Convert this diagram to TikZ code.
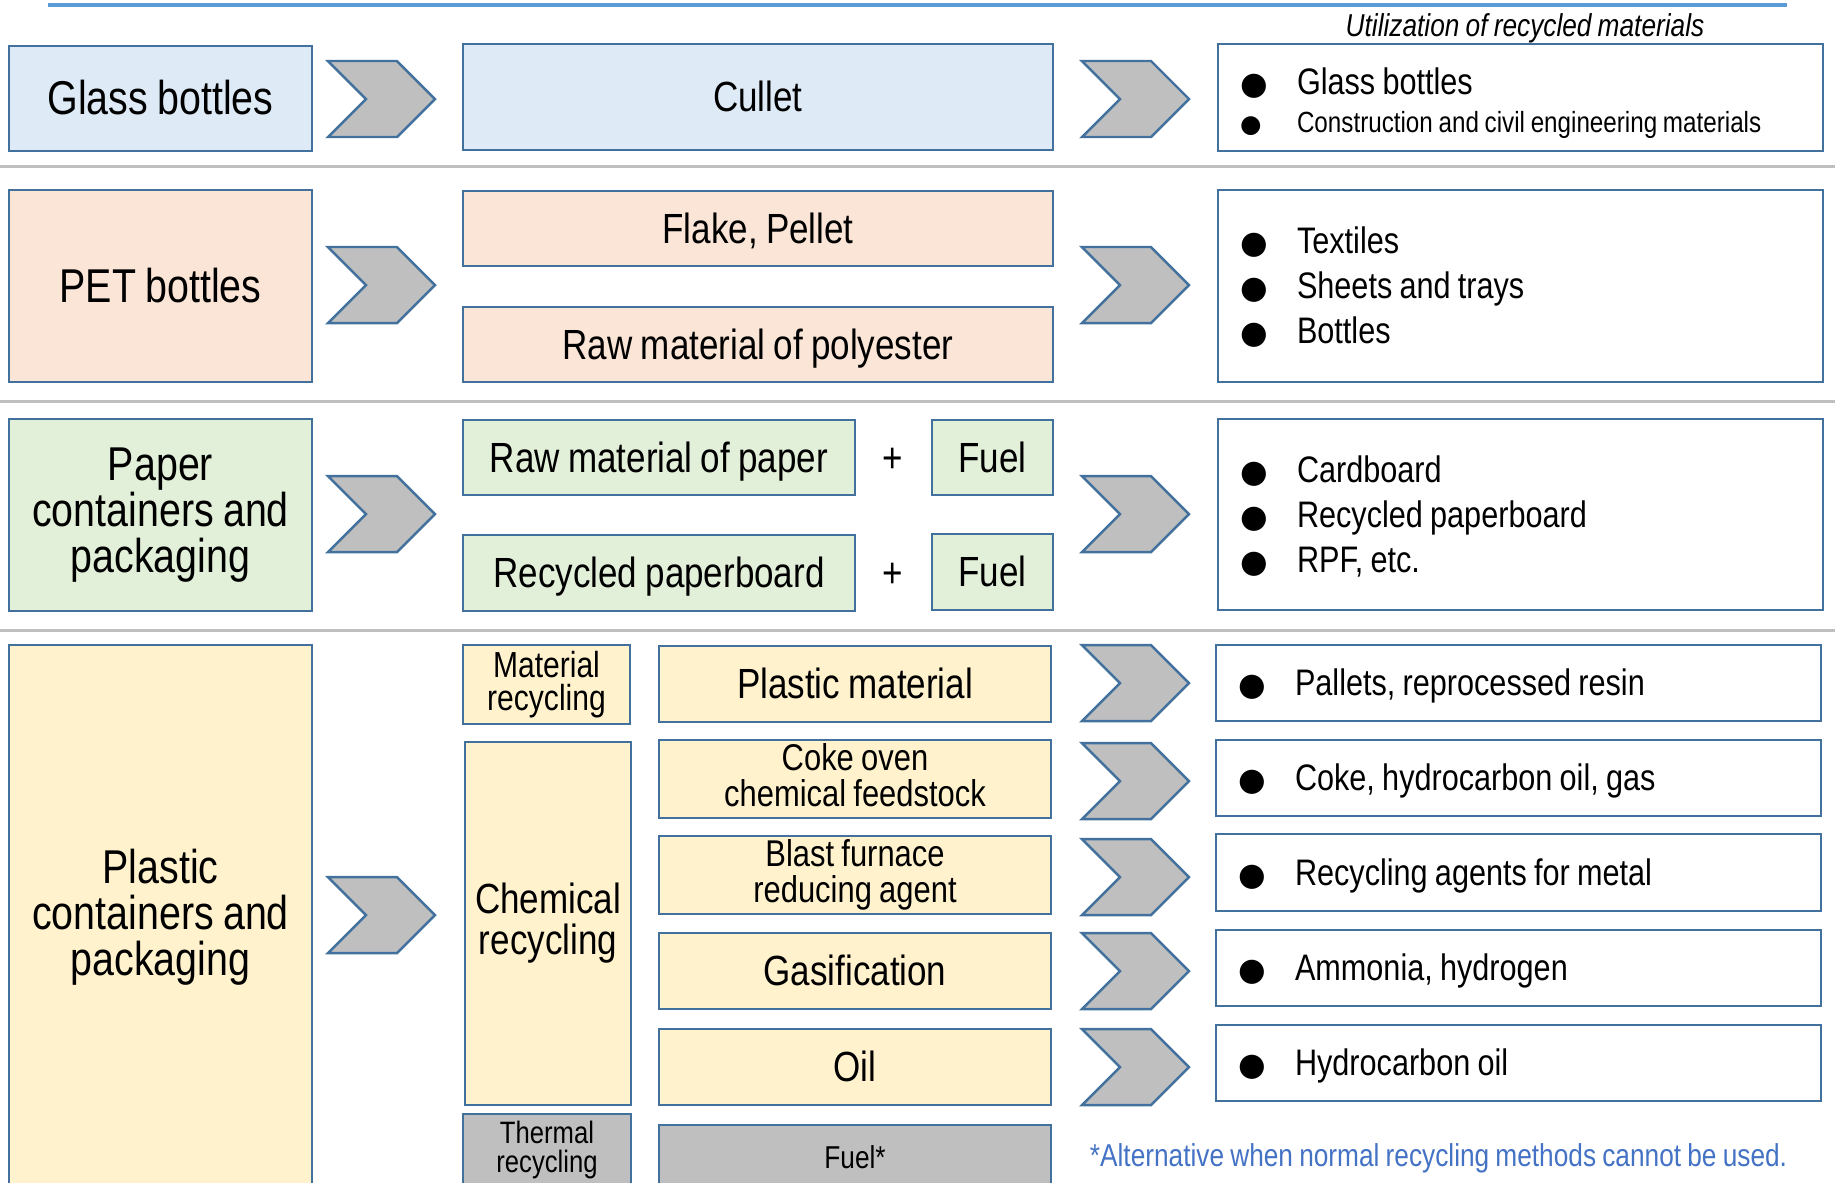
\documentclass[tikz,border=0pt]{standalone}
\usepackage{fontspec}
\setmainfont{Liberation Sans}[FakeStretch=0.83, WordSpace=0.85]
\newfontfamily\symf{DejaVu Sans}
\usetikzlibrary{positioning}

\definecolor{edgeblue}{RGB}{65,113,156}
\definecolor{topblue}{RGB}{91,155,213}
\definecolor{glassfill}{RGB}{222,235,247}
\definecolor{petfill}{RGB}{251,229,214}
\definecolor{paperfill}{RGB}{226,240,217}
\definecolor{plasticfill}{RGB}{255,242,204}
\definecolor{chevgray}{RGB}{191,191,191}
\definecolor{noteblue}{RGB}{68,114,196}

\newcommand\itm[1]{\makebox[0.57cm][l]{\smash{\fontsize{9}{9}\symf ●}}#1}
\newcommand\itms[1]{\makebox[0.57cm][l]{\smash{\fontsize{7}{7}\symf ●}}#1}

\tikzset{
        box/.style={draw=edgeblue, line width=0.7pt, inner sep=1pt, align=center,
                execute at begin node={\rule{0pt}{0.905em}},
                execute at end node={\rule[-0.212em]{0pt}{0pt}}},
        srcbox/.style={box, minimum width=3.03cm, font=\fontsize{13.5}{13}\selectfont},
        midbox/.style={box, minimum height=0.76cm, font=\fontsize{12}{11.6}\selectfont},
        usebox/.style={box, text width=5.61cm, inner xsep=0.22cm, align=flush left,
                font=\fontsize{10.5}{12.8}\selectfont},
        sepline/.style={draw=chevgray, line width=0.85pt},
        chev/.pic={\filldraw[fill=chevgray, draw=edgeblue, line width=0.7pt]
                (-0.535,0.38) -- (0.155,0.38) -- (0.535,0) -- (0.155,-0.38) -- (-0.535,-0.38) -- (-0.155,0) -- cycle;}
}

\begin{document}
\begin{tikzpicture}
        \useasboundingbox (0,0) rectangle (18.35,-11.82);
        \clip (0,0) rectangle (18.35,-11.82);

        \draw[topblue, line width=1.1pt] (0.48,-0.05) -- (17.87,-0.05);
        \node[font=\fontsize{9}{9}\selectfont\itshape] (usetitle) at (15.25,-0.28) {Utilization of recycled materials};

        % glass
        \node[srcbox, fill=glassfill, minimum height=1.05cm] (glass) at (1.605,-0.985) {Glass bottles};
        \node[midbox, fill=glassfill, minimum width=5.90cm, minimum height=1.06cm] (cullet) at (7.58,-0.97) {Cullet};
        \node[usebox, minimum height=1.07cm, font=\fontsize{8.3}{10.7}\selectfont] (useglass) at (15.205,-0.975)
                {\rule{0pt}{11pt}{\fontsize{10.5}{12}\selectfont\itm{Glass bottles}}\\
                 \itms{Construction and civil engineering materials}};
        \pic at (3.815,-0.99) {chev};
        \pic at (11.355,-0.99) {chev};
        \draw[sepline] (0,-1.66) -- (18.35,-1.66);

        % PET
        \node[srcbox, fill=petfill, minimum height=1.92cm] (pet) at (1.605,-2.86) {PET bottles};
        \node[midbox, fill=petfill, minimum width=5.90cm, minimum height=0.75cm] (flake) at (7.58,-2.285) {Flake, Pellet};
        \node[midbox, fill=petfill, minimum width=5.90cm, minimum height=0.75cm] (polyester) at (7.58,-3.445) {Raw material of polyester};
        \node[usebox, minimum height=1.92cm] (usepet) at (15.205,-2.86)
                {\itm{Textiles}\\ \itm{Sheets and trays}\\ \itm{Bottles}};
        \pic at (3.815,-2.85) {chev};
        \pic at (11.355,-2.85) {chev};
        \draw[sepline] (0,-4.01) -- (18.35,-4.01);

        % paper
        \node[srcbox, fill=paperfill, minimum height=1.92cm] (paper) at (1.605,-5.15) {Paper\\containers and\\packaging};
        \node[midbox, fill=paperfill, minimum width=3.92cm, minimum height=0.75cm] (rawpaper) at (6.59,-4.575) {Raw material of paper};
        \node[font=\fontsize{12}{12}\selectfont] (plusa) at (8.93,-4.60) {+};
        \node[midbox, fill=paperfill, minimum width=1.21cm, minimum height=0.75cm] (fuela) at (9.925,-4.575) {Fuel};
        \node[midbox, fill=paperfill, minimum width=3.92cm] (recpaper) at (6.59,-5.73) {Recycled paperboard};
        \node[font=\fontsize{12}{12}\selectfont] (plusb) at (8.93,-5.75) {+};
        \node[midbox, fill=paperfill, minimum width=1.21cm] (fuelb) at (9.925,-5.72) {Fuel};
        \node[usebox, minimum height=1.91cm] (usepaper) at (15.205,-5.145)
                {\itm{Cardboard}\\ \itm{Recycled paperboard}\\ \itm{RPF, etc.}};
        \pic at (3.815,-5.14) {chev};
        \pic at (11.355,-5.14) {chev};
        \draw[sepline] (0,-6.30) -- (18.35,-6.30);

        % plastic
        \node[srcbox, fill=plasticfill, minimum height=5.45cm] (plastic) at (1.605,-9.175) {Plastic\\containers and\\packaging};
        \pic at (3.815,-9.15) {chev};
        \node[box, fill=plasticfill, inner sep=0.3pt, minimum width=1.67cm, minimum height=0.79cm, font=\fontsize{10.3}{9.4}\selectfont] (matrec) at (5.465,-6.845) {Material\\recycling};
        \node[box, fill=plasticfill, minimum width=1.66cm, minimum height=3.63cm, font=\fontsize{12}{11.6}\selectfont] (chemrec) at (5.48,-9.235) {Chemical\\recycling};
        \node[box, fill=chevgray, inner sep=0.3pt, minimum width=1.68cm, minimum height=0.72cm, font=\fontsize{8.8}{8}\selectfont] (thermrec) at (5.47,-11.50) {Thermal\\recycling};
        \node[midbox, fill=plasticfill, minimum width=3.92cm] (plasmat) at (8.55,-6.84) {Plastic material};
        \node[midbox, fill=plasticfill, minimum width=3.92cm, font=\fontsize{10.6}{10.3}\selectfont] (coke) at (8.55,-7.79) {Coke oven\\chemical feedstock};
        \node[midbox, fill=plasticfill, minimum width=3.92cm, font=\fontsize{10.6}{10.3}\selectfont] (blast) at (8.55,-8.75) {Blast furnace\\reducing agent};
        \node[midbox, fill=plasticfill, minimum width=3.92cm] (gasif) at (8.55,-9.71) {Gasification};
        \node[midbox, fill=plasticfill, minimum width=3.92cm] (oil) at (8.55,-10.67) {Oil};
        \node[midbox, fill=chevgray, minimum width=3.92cm, minimum height=0.65cm, font=\fontsize{9}{9}\selectfont] (fuelstar) at (8.55,-11.575) {Fuel*};
        \node[usebox, minimum height=0.76cm] (usemat) at (15.185,-6.83) {\itm{Pallets, reprocessed resin}};
        \node[usebox, minimum height=0.76cm] (usecoke) at (15.185,-7.78) {\itm{Coke, hydrocarbon oil, gas}};
        \node[usebox, minimum height=0.77cm] (useblast) at (15.185,-8.725) {\itm{Recycling agents for metal}};
        \node[usebox, minimum height=0.76cm] (usegas) at (15.185,-9.68) {\itm{Ammonia, hydrogen}};
        \node[usebox, minimum height=0.76cm] (useoil) at (15.185,-10.63) {\itm{Hydrocarbon oil}};
        \pic at (11.355,-6.83) {chev};
        \pic at (11.355,-7.81) {chev};
        \pic at (11.355,-8.77) {chev};
        \pic at (11.355,-9.71) {chev};
        \pic at (11.355,-10.67) {chev};

        \node[font=\fontsize{9}{9}\selectfont, text=noteblue] (note) at (14.385,-11.585) {*Alternative when normal recycling methods cannot be used.};
\end{tikzpicture}
\end{document}
